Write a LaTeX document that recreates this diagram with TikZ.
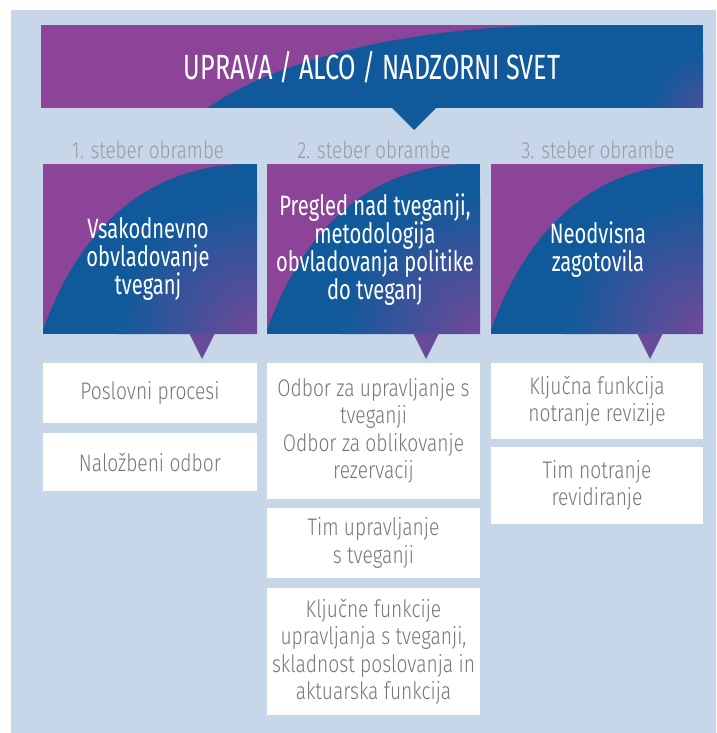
\documentclass[tikz,border=0pt]{standalone}
\usepackage{fontspec}
\setmainfont{Fira Sans}[FakeStretch=0.72]
\newfontfamily\lightfont{Fira Sans Light}[FakeStretch=0.8]
\usetikzlibrary{calc}
\definecolor{cpurple}{RGB}{139,68,152}
\definecolor{cblue}{RGB}{16,90,155}
\definecolor{cbg}{RGB}{200,214,233}
\definecolor{ctext}{RGB}{118,119,124}
\definecolor{clabel}{RGB}{152,153,158}
\colorlet{cpb}{cpurple!70!cblue}
\newcommand\gradpanel[4]{%
  \fill[cpurple] (#1,#2) rectangle ++(#3,#4);
  \begin{scope}
    \clip (#1,#2+#4-4) .. controls (#1+0.18*#3,#2+0.35*#4) and (#1+0.5*#3,#2+0.02*#4) .. (#1+0.93*#3,#2)
      -- (#1+#3,#2) -- (#1+#3,#2+#4) -- (#1,#2+#4) -- cycle;
    \fill[cblue] (#1,#2) rectangle ++(#3,#4);
    \shade[inner color=cpurple!80!cblue, outer color=cblue] (#1+#3,#2+#4) circle (140);
  \end{scope}}
\tikzset{
  whitebox/.style={fill=white, inner sep=0pt, text=ctext, align=center,
    font=\lightfont\fontsize{24}{27.5}\selectfont},
  paneltext/.style={text=white, align=center, inner sep=0pt,
    font=\fontsize{28}{28}\selectfont},
  collabel/.style={text=clabel, inner sep=0pt, font=\lightfont\fontsize{23.5}{26}\selectfont},
}
\begin{document}
\begin{tikzpicture}[x=1pt,y=-1pt]
\useasboundingbox (0,0) rectangle (716,733);
\fill[white] (0,0) rectangle (716,733);
\fill[cbg] (11,10) rectangle (716,733);
% banner
\fill[cpurple] (41,25) rectangle (703,108);
\begin{scope}
  \clip (208,108) .. controls (262,68) and (385,28) .. (555,25) -- (703,25) -- (703,108) -- cycle;
  \fill[cblue] (41,25) rectangle (703,108);
  \shade[inner color=cpurple!45!cblue, outer color=cblue] (703,108) circle (55);
\end{scope}
\fill[cblue] (391,107) -- (437,107) -- (414,130) -- cycle;
\node[text=white, inner sep=0pt, font=\fontsize{35}{36}\selectfont] (top) at (372,67) {UPRAVA / ALCO / NADZORNI SVET};
% column labels
\node[collabel] (l1) at (148,150) {1. steber obrambe};
\node[collabel] (l2) at (374,150) {2. steber obrambe};
\node[collabel] (l3) at (598,150) {3. steber obrambe};
% panels
\gradpanel{43}{164}{214}{170}
\gradpanel{267}{164}{213}{170}
\gradpanel{491}{164}{212}{170}
\fill[cpb] (189,333) -- (215,333) -- (202,359) -- cycle;
\fill[cpb] (413,333) -- (439,333) -- (426,359) -- cycle;
\fill[cpb] (637,333) -- (663,333) -- (650,359) -- cycle;
\node[paneltext] (t1) at (148,259) {Vsakodnevno\\obvladovanje\\tveganj};
\node[paneltext] (t2) at (375,250) {Pregled nad tveganji,\\metodologija\\obvladovanja politike\\do tveganj};
\node[paneltext] (t3) at (598,250) {Neodvisna\\zagotovila};
% white boxes column 1
\node[whitebox, minimum width=214pt, minimum height=60pt] (a1) at (150,393) {Poslovni procesi};
\node[whitebox, minimum width=214pt, minimum height=58pt] (a2) at (150,462) {Naložbeni odbor};
% column 2
\node[whitebox, minimum width=213pt, minimum height=136pt] (b1) at (373.5,431) {Odbor za upravljanje s\\tveganji\\Odbor za oblikovanje\\rezervacij};
\node[whitebox, minimum width=213pt, minimum height=70pt] (b2) at (373.5,543) {Tim upravljanje\\s tveganji};
\node[whitebox, minimum width=213pt, minimum height=127pt] (b3) at (373.5,651.5) {Ključne funkcije\\upravljanja s tveganji,\\skladnost poslovanja in\\aktuarska funkcija};
% column 3
\node[whitebox, minimum width=212pt, minimum height=76pt] (c1) at (597,401) {Ključna funkcija\\notranje revizije};
\node[whitebox, minimum width=212pt, minimum height=77pt] (c2) at (597,485.5) {Tim notranje\\revidiranje};
\end{tikzpicture}
\end{document}
